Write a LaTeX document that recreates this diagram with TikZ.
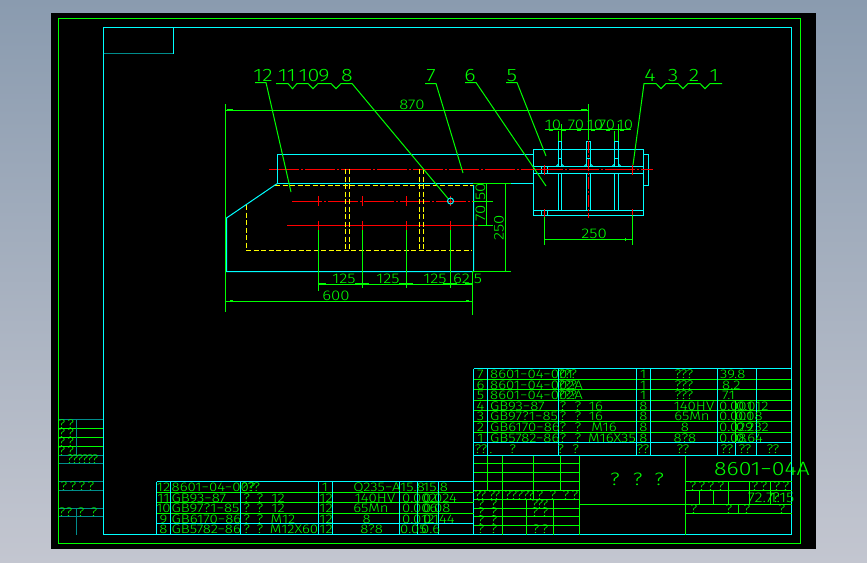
\documentclass[tikz,border=0pt]{standalone}
\usepackage{fontspec}
\setmainfont{Liberation Sans}
\font\cadtab="Fira Sans Light:extend=1.2" at 12.5pt
\font\cadbig="Fira Sans Light:extend=1.2" at 18pt
\font\caddim="Fira Sans Light:extend=1.2" at 14pt
\font\cadttl="Fira Sans Light:extend=1.2" at 19.3pt
\definecolor{cadG}{RGB}{0,255,0}
\definecolor{cadC}{RGB}{0,255,255}
\definecolor{cadR}{RGB}{255,0,0}
\definecolor{cadY}{RGB}{255,255,0}
\definecolor{cadT}{RGB}{0,140,140}
\definecolor{bgTop}{RGB}{138,155,175}
\definecolor{bgBot}{RGB}{195,198,208}
\tikzset{
 gl/.style={draw=cadG,line width=1pt},
 cl/.style={draw=cadC,line width=1pt},
 tl/.style={draw=cadT,line width=1pt},
 rl/.style={draw=cadR,line width=1pt},
 rcen/.style={draw=cadR,line width=1pt,dash pattern=on 30pt off 2pt on 2pt off 2pt},
 yl/.style={draw=cadY,line width=1pt,dash pattern=on 5pt off 2.5pt},
 txt/.style={text=cadG,inner sep=0pt,font=\cadtab},
 big/.style={text=cadG,inner sep=0pt,font=\cadbig},
 dimt/.style={text=cadG,inner sep=0pt,font=\caddim},
}
\newcommand{\TL}[3]{\node[txt,anchor=base west] at ({#1},{#2+4.5}) {#3};}
\newcommand{\TC}[3]{\node[txt,anchor=base] at ({#1},{#2+4.5}) {#3};}
\newcommand{\DT}[3]{\node[dimt,anchor=base] at ({#1},{#2+5}) {#3};}
\newcommand{\BT}[3]{\node[big,anchor=base] at ({#1},{#2+6.5}) {#3};}
\begin{document}
\begin{tikzpicture}[x=1pt,y=-1pt]
\useasboundingbox (0,0) rectangle (867,562);
\shade[top color=bgTop,bottom color=bgBot] (0,0) rectangle (867,562);
\fill[black] (51,13) rectangle (816,549);
% frames
\draw[gl] (58.5,18.5) rectangle (800.5,543.5);
\draw[cl] (103.5,27.5) rectangle (791.5,534.5);
\draw[tl] (103.5,53.5) -- (173.5,53.5);
\draw[cl] (173.5,53.5) -- (173.5,27.5);
% left margin table
\foreach \y in {419.5,455.5,463.5,481.5,490.5,508.5,516.5} {\draw[tl] (58.5,\y) -- (103,\y);}
\foreach \y in {428.5,437.5,446.5} {\draw[gl] (58.5,\y) -- (103,\y);}
\draw[tl] (76.5,419.5) -- (76.5,455.5) (76.5,508.5) -- (76.5,534.5);
\foreach \y in {424,433,442,451} {\TC{62}{\y}{?}\TC{70.7}{\y}{?}}
\foreach \x in {70,75,80,85,90,95} {\TC{\x}{459}{?}}
\foreach \x in {64,73,82,91} {\TC{\x}{486}{?}}
\foreach \x in {62,69,81,94} {\TC{\x}{512}{?}}
% centre lines
\draw[rcen] (269,169.5) -- (533,169.5);
\draw[rcen] (292,201.5) -- (473,201.5);
\draw[rl] (287,225.5) -- (478,225.5);
\foreach \x in {318.5,362.5,406.5,450.5} {
 \draw[rl] (\x,196) -- (\x,206);
 \draw[rl] (\x,221) -- (\x,230);
}
% hidden lines
\draw[yl] (275,185.5) -- (473,185.5);
\draw[yl] (246.5,205) -- (246.5,250.5) -- (472,250.5);
\foreach \x in {345.5,349.5,419.5,423.5} {\draw[yl] (\x,169) -- (\x,250);}
% body outline
\draw[cl] (533.5,154.5) -- (277.5,154.5) -- (277.5,183.5) -- (533.5,183.5);
\draw[cl] (277.5,183.5) -- (275,185) -- (226.5,218) -- (226.5,271.5) -- (473.5,271.5) -- (473.5,185);
\draw[cl] (450.5,201) circle (3);
% right assembly
\draw[cl] (533.5,149.5) rectangle (643.5,215.5);
\draw[cl] (533.5,210.5) -- (643.5,210.5);
\draw[cl] (643.5,154.5) -- (648.5,154.5) -- (648.5,185.5) -- (643.5,185.5);
\foreach \y in {166.5,173.5} {\draw[cl] (533.5,\y) -- (643.5,\y);}
\foreach \x in {541.5,547.5} {\draw[cl] (\x,166.5) -- (\x,173.5); \draw[cl] (\x,210.5) -- (\x,215.5);}
\foreach \pa/\pb in {558.5/561.5,586.5/590.5,614.5/618.5} {
 \draw[cl] (\pa,166.5) -- (\pa,141.5) -- (\pb,141.5) -- (\pb,166.5);
 \draw[cl] (\pa,158.5) -- (\pb,158.5);
 \draw[cl] (\pa,173.5) -- (\pa,210.5);
 \draw[cl] (\pb,173.5) -- (\pb,210.5);
 \draw[cl] (\pa-2.5,166.5) -- (\pa,164);
 \draw[cl] (\pb+2.5,166.5) -- (\pb,164);
}
\draw[rcen] (533,169.5) -- (652.7,169.5);
\draw[rl,line width=1.3pt,dash pattern=on 12pt off 2pt on 2pt off 2pt] (588.5,141) -- (588.5,218);
\foreach \x in {544.5,632.5} {\draw[rl] (\x,165) -- (\x,175); \draw[rl] (\x,209) -- (\x,217);}
% leaders
\draw[gl] (255,82.5) -- (266,82.5) -- (291,192);
\draw[gl] (276,83.5) -- (288,83.5) -- (292.5,88.7) -- (297,83.5) -- (308,83.5) -- (313,88.7) -- (318,83.5) -- (331,83.5) -- (336,88.7) -- (341,83.5) -- (352,83.5) -- (448,198.5);
\draw[gl] (425,83.5) -- (436,83.5) -- (463,173);
\draw[gl] (465,82.5) -- (476,82.5) -- (546,186);
\draw[gl] (506,82.5) -- (517,82.5) -- (546,156);
\draw[gl] (633,165) -- (644,83.5) -- (656,83.5) -- (661,88.7) -- (666,83.5) -- (678,83.5) -- (683,88.7) -- (688,83.5) -- (700,83.5) -- (705,88.7) -- (710,83.5) -- (722,83.5);
\BT{263}{75}{12}\BT{287}{75}{11}\BT{309}{75}{10}\BT{324}{75}{9}\BT{347}{75}{8}
\BT{431}{75}{7}\BT{470}{75}{6}\BT{512}{75}{5}
\BT{650}{75}{4}\BT{673}{75}{3}\BT{694}{75}{2}\BT{714}{75}{1}
% dimensions
\draw[gl] (225.5,104) -- (225.5,312);
\draw[gl] (588.5,104) -- (588.5,140);
\draw[gl] (225.5,110.5) -- (588.5,110.5);
\draw[gl,line width=1.4pt] (227,109.6) -- (233,109.6) (581,109.6) -- (587,109.6);
\DT{412}{104}{870}
\draw[gl] (545,129.5) -- (631,129.5);
\foreach \x in {561.5,618.5} {\draw[gl] (\x,124) -- (\x,141);}
\foreach \x in {558.5,614.5} {\draw[gl] (\x,131) -- (\x,141);}
\DT{553}{124}{10}\DT{576}{124}{70}\DT{595}{124}{10}\DT{607}{124}{70}\DT{625}{124}{10}
\foreach \x in {551,564,579,593,608,622} {\draw[gl,line width=1.4pt] (\x-2,130.3) -- (\x+2,130.3);}
\draw[gl] (544.5,217) -- (544.5,245);
\draw[gl] (632.5,215) -- (632.5,245);
\draw[gl] (544.5,239.5) -- (632.5,239.5);
\draw[gl] (625.5,238) -- (625.5,241);
\DT{594}{233}{250}
\draw[gl] (318.5,230) -- (318.5,290.7);
\foreach \x in {362.5,406.5,450.5} {\draw[gl] (\x,230) -- (\x,288);}
\draw[gl] (472.5,271) -- (472.5,315);
\draw[gl] (318.5,284.5) -- (472.5,284.5);
\draw[gl,line width=1.4pt] (319,283.5) -- (326,283.5) (355,283.5) -- (369,283.5) (399,283.5) -- (413,283.5) (443,283.5) -- (457,283.5) (465,283.5) -- (472,283.5);
\DT{344}{278}{125}\DT{388}{278}{125}\DT{435}{278}{125}\DT{461.5}{278}{62}\DT{478}{278}{5}
\draw[gl] (225.5,301.5) -- (472.5,301.5);
\draw[gl,line width=1.4pt] (230,301) -- (233,301) (466,301) -- (469,301);
\DT{336}{295}{600}
\draw[gl] (473,183.5) -- (511,183.5) (473,271.5) -- (511,271.5);
\draw[gl] (505.5,184) -- (505.5,271);
\draw[gl] (486.5,183.5) -- (486.5,225.5);
\draw[gl] (473,201.5) -- (493,201.5) (478,225.5) -- (493,225.5);
\node[dimt,rotate=90] at (480.5,213) {70};
\node[dimt,rotate=90] at (480.5,192) {50};
\node[dimt,rotate=90] at (499,228) {250};
% upper parts list
\foreach \y in {379.5,389.5,400.5,410.5,421.5,432.5} {\draw[gl] (473.5,\y) -- (791.5,\y);}
\draw[cl] (473.5,368.5) -- (791.5,368.5) (473.5,442.5) -- (791.5,442.5) (473.5,455.5) -- (791.5,455.5);
\foreach \x in {473.5,487.5,558.5,636.5,650.5,717.5,756.5,791.5} {\draw[cl] (\x,368.5) -- (\x,455.5);}
\draw[cl] (735.5,442.5) -- (735.5,455.5);
\draw[gl] (735.5,400.5) -- (735.5,442.5);
\foreach \rn/\y in {7/374,6/384.5,5/395,4/405.5,3/416,2/427,1/437.5} {\TC{480.5}{\y}{\rn}}
\TL{490}{374}{8601−04−001}\TL{558}{374}{???}
\TL{490}{384.5}{8601−04−002A}\TL{558}{384.5}{???}
\TL{490}{395}{8601−04−002A}\TL{558}{395}{???}
\TL{490}{405.5}{GB93−87}\TC{563}{405.5}{?}\TC{578}{405.5}{?}\TC{596}{405.5}{16}
\TL{490}{416}{GB97?1−85}\TC{563}{416}{?}\TC{578}{416}{?}\TC{596}{416}{16}
\TL{490}{427}{GB6170−86}\TC{563}{427}{?}\TC{578}{427}{?}\TC{604}{427}{M16}
\TL{490}{437.5}{GB5782−86}\TC{563}{437.5}{?}\TC{578}{437.5}{?}\TC{612}{437.5}{M16X35}
\foreach \y/\qn in {374/1,384.5/1,395/1,405.5/8,416/8,427/8,437.5/8} {\TC{643.3}{\y}{\qn}}
\TC{684}{374}{???}\TC{684}{384.5}{???}\TC{684}{395}{???}
\TC{694}{405.5}{140HV}\TC{692}{416}{65Mn}\TC{685}{427}{8}\TC{685}{437.5}{8?8}
\TL{720}{374}{39.8}\TL{722}{384.5}{8.2}\TL{722}{395}{7.1}
\TL{719}{405.5}{0.001}\TL{736}{405.5}{0.012}
\TL{719}{416}{0.001}\TL{735}{416}{0.08}
\TL{719}{427}{0.029}\TL{736}{427}{0.232}
\TL{719}{437.5}{0.08}\TL{736}{437.5}{0.64}
\TC{481}{449}{??}\TC{491}{449}{.}\TC{512.7}{449}{?}\TC{560.7}{449}{?}\TC{575.7}{449}{?}\TC{643}{449}{??}\TC{683}{449}{??}\TC{727}{449}{??}\TC{745}{449}{??}\TC{773}{449}{??}
% title block
\foreach \y in {463.5,472.5,481.5,490.5,499.5,508.5,516.5,525.5} {\draw[gl] (473.5,\y) -- (579.5,\y);}
\foreach \x in {487.5,533.5,560.5} {\draw[gl] (\x,455.5) -- (\x,490.5);}
\foreach \x in {502.5,579.5,685.5} {\draw[gl] (\x,455.5) -- (\x,534.5);}
\draw[gl] (526.5,499.5) -- (526.5,534.5) (553.5,499.5) -- (553.5,534.5);
\draw[gl] (533.5,490.5) -- (533.5,499.5);
\draw[cl] (473.5,455.5) -- (473.5,534.5);
\draw[gl] (579.5,504.5) -- (791.5,504.5);
\foreach \y in {481.5,490.5,513.5} {\draw[gl] (685.5,\y) -- (791.5,\y);}
\foreach \x in {728.5,749.5,770.5} {\draw[gl] (\x,481.5) -- (\x,504.5);}
\foreach \x in {699.5,713.5} {\draw[gl] (\x,490.5) -- (\x,504.5);}
\draw[gl] (738.5,504.5) -- (738.5,513.5);
\node[text=cadG,inner sep=0pt,anchor=base west,font=\cadttl] at (714,475) {8601−04A};
\BT{615}{479}{?}\BT{637.7}{479}{?}\BT{659.3}{479}{?}
\foreach \x in {693,702,711,721,755,764,777,786} {\TC{\x}{485.5}{?}}
\DT{760.5}{497.5}{72.7}\DT{782}{497.5}{1:15}\DT{776}{497.5}{?}
\foreach \x in {694,729,747,782} {\TC{\x}{509}{?}}
\foreach \x in {478,483,492,497,508,514,520,526,531,540,553,566,575} {\TC{\x}{494.5}{?}}
\foreach \x in {481,494} {\TC{\x}{504}{?}\TC{\x}{512}{?}\TC{\x}{520}{?}\TC{\x}{529}{?}}
\foreach \x in {535,540,545} {\TC{\x}{504}{?}}
\foreach \x in {535,545} {\TC{\x}{512}{?}}
\foreach \x in {536,545} {\TC{\x}{529}{?}}
% lower parts list
\foreach \y in {492.5,502.5,513.5} {\draw[gl] (156.5,\y) -- (473.5,\y);}
\draw[cl] (156.5,481.5) -- (473.5,481.5) (156.5,523.5) -- (473.5,523.5);
\foreach \x in {156.5,170.5,240.5,318.5,332.5,399.5,417.5,438.5} {\draw[cl] (\x,481.5) -- (\x,534.5);}
\foreach \rn/\y in {12/487,11/497.5,10/508,9/518.5,8/529} {\TC{163.5}{\y}{\rn}}
\TL{171.5}{487}{8601−04−00?}\TL{241}{487}{???}
\TL{171.5}{497.5}{GB93−87}\TL{171.5}{508}{GB97?1−85}\TL{171.5}{518.5}{GB6170−86}\TL{171.5}{529}{GB5782−86}
\foreach \y in {497.5,508} {\TC{246.7}{\y}{?}\TC{260}{\y}{?}\TC{278}{\y}{12}}
\TC{246.7}{518.5}{?}\TC{260}{518.5}{?}\TC{283}{518.5}{M12}
\TC{246.7}{529}{?}\TC{260}{529}{?}\TC{294}{529}{M12X60}
\TC{325}{487}{1}\foreach \y in {497.5,508,518.5,529} {\TC{326}{\y}{12}}
\TC{377}{487}{Q235−A}\TC{375}{497.5}{140HV}\TC{371}{508}{65Mn}\TC{366.7}{518.5}{8}\TC{371.7}{529}{8?8}
\TL{400}{487}{15.8}\TL{423}{487}{15.8}
\TL{402}{497.5}{0.002}\TL{423}{497.5}{0.024}
\TL{402}{508}{0.006}\TL{423}{508}{0.08}
\TL{402}{518.5}{0.012}\TL{423}{518.5}{0.144}
\TL{400}{529}{0.05}\TL{421}{529}{0.6}
\end{tikzpicture}
\end{document}
